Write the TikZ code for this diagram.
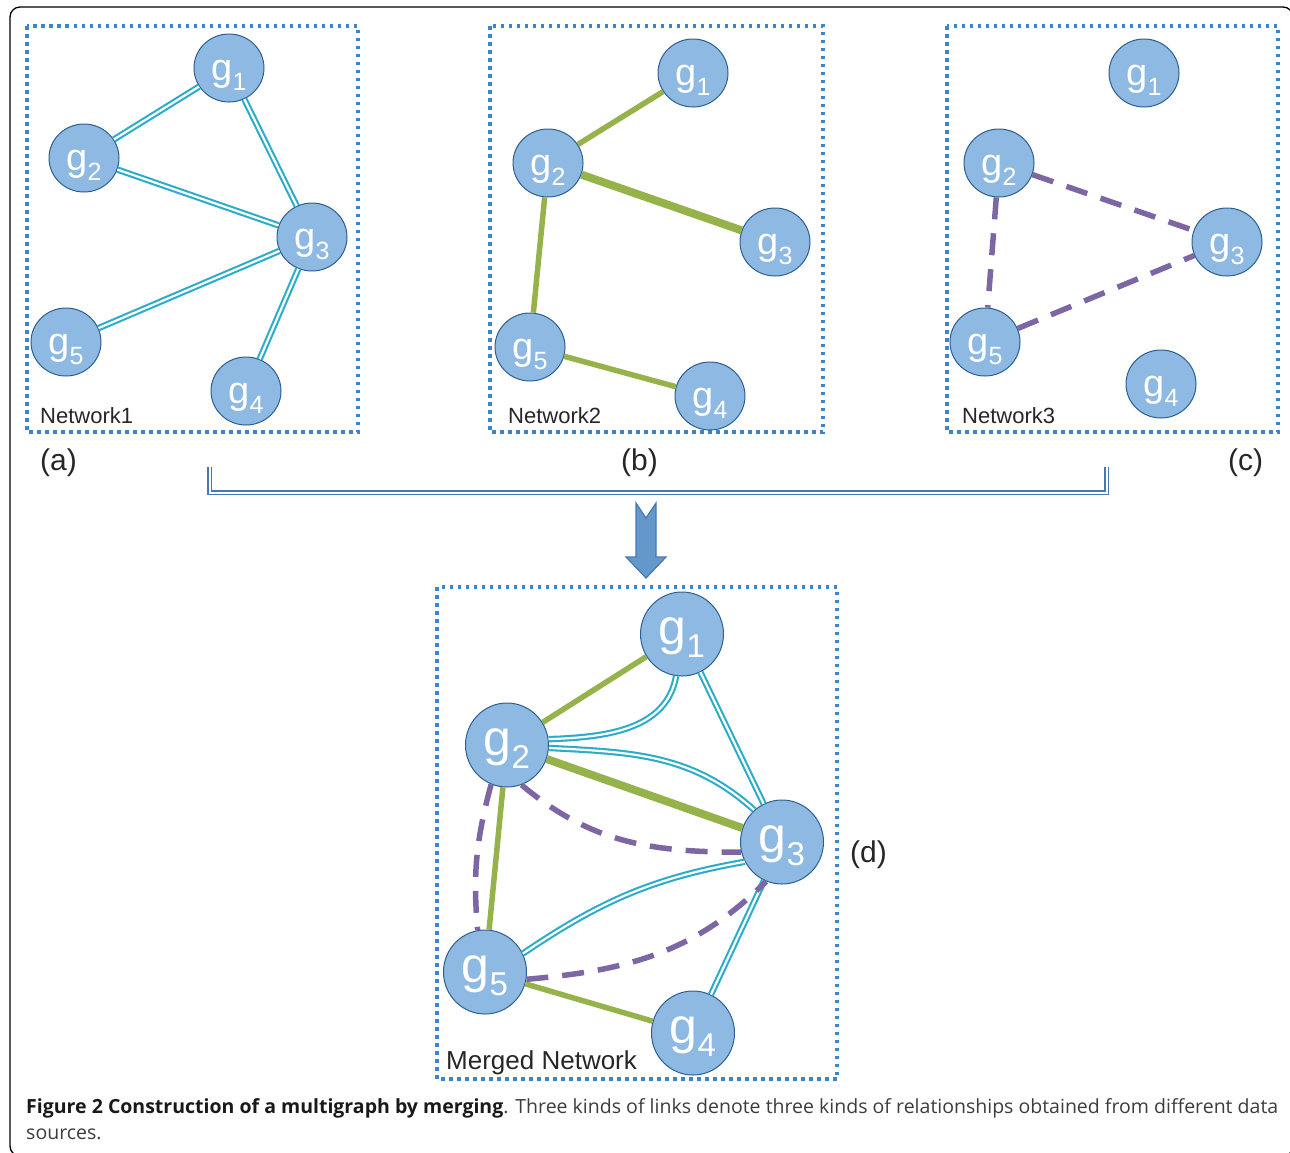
\documentclass[tikz,border=0pt]{standalone}
\usepackage{fontspec}
\setmainfont{Liberation Sans}
\newfontfamily\capfont{Open Sans}
\usetikzlibrary{shapes.geometric}
\definecolor{nodefill}{RGB}{141,185,226}
\definecolor{nodeedge}{RGB}{45,95,145}
\definecolor{cyanl}{RGB}{43,172,199}
\definecolor{greenl}{RGB}{150,178,74}
\definecolor{purplel}{RGB}{125,102,164}
\definecolor{boxblue}{RGB}{62,132,198}
\definecolor{arrfill}{RGB}{101,152,202}
\definecolor{arredge}{RGB}{70,120,180}
\definecolor{capgray}{RGB}{60,60,60}
\newcommand{\pg}[1]{g\raisebox{-10pt}{\fontsize{25}{25}\selectfont #1}}
\newcommand{\mg}[1]{g\raisebox{-13pt}{\fontsize{33}{33}\selectfont #1}}
\tikzset{
  gnode/.style={ellipse, draw=nodeedge, line width=1pt, fill=nodefill, minimum width=70, minimum height=68, inner sep=0pt, text=white, font=\fontsize{38}{38}\selectfont, text height=28pt, text depth=4pt},
  mnode/.style={gnode, minimum width=83, minimum height=84, font=\fontsize{50}{50}\selectfont, text height=27pt, text depth=6pt},
  cyanedge/.style={draw=cyanl, line width=2.1pt, double=white, double distance=2.2pt},
  greenedge/.style={draw=greenl, line width=5.5pt},
  greenthick/.style={draw=greenl, line width=8pt},
  purpleedge/.style={draw=purplel, line width=5.5pt, dash pattern=on 22pt off 14pt},
  dotbox/.style={draw=boxblue, line width=3.5pt, dash pattern=on 3.5pt off 4.5pt},
  netlabel/.style={anchor=base west, inner sep=0pt, font=\fontsize{22}{22}\selectfont, text=black!85},
  panlabel/.style={anchor=base west, inner sep=0pt, font=\fontsize{30}{30}\selectfont, text=black!85},
  capstyle/.style={anchor=base west, inner sep=0pt, font=\capfont\fontsize{19.5}{19.5}\selectfont, text=capgray},
}
\begin{document}
\begin{tikzpicture}[x=1pt,y=-1pt]
\useasboundingbox (0,0) rectangle (1290,1152);
\draw[black, line width=1.3pt, rounded corners=10pt] (10,7) rectangle (1293,1156);

% boxes
\draw[dotbox] (27,26) rectangle (358,432);
\draw[dotbox] (490,26) rectangle (823,432);
\draw[dotbox] (947,26) rectangle (1278,432);
\draw[dotbox] (437,587) rectangle (837,1079);

% panel (a)
\node[gnode] (a1) at (229,68) {\pg{1}};
\node[gnode] (a2) at (84,158) {\pg{2}};
\node[gnode] (a3) at (312,237) {\pg{3}};
\node[gnode] (a5) at (66,342) {\pg{5}};
\node[gnode] (a4) at (246,391) {\pg{4}};
\draw[cyanedge] (a1) -- (a2);
\draw[cyanedge] (a1) -- (a3);
\draw[cyanedge] (a2) -- (a3);
\draw[cyanedge] (a3) -- (a5);
\draw[cyanedge] (a3) -- (a4);
\node[netlabel] (n1) at (40,423) {Network1};
\node[panlabel] (la) at (40,470) {(a)};

% panel (b)
\node[gnode] (b1) at (693,73) {\pg{1}};
\node[gnode] (b2) at (548,163) {\pg{2}};
\node[gnode] (b3) at (775,242) {\pg{3}};
\node[gnode] (b5) at (530,347) {\pg{5}};
\node[gnode] (b4) at (710,396) {\pg{4}};
\draw[greenedge] (b1) -- (b2);
\draw[greenthick] (b2) -- (b3);
\draw[greenedge] (b2) -- (b5);
\draw[greenedge] (b5) -- (b4);
\node[netlabel] (n2) at (508,423) {Network2};
\node[panlabel] (lb) at (621,470) {(b)};

% panel (c)
\node[gnode] (c1) at (1144,73) {\pg{1}};
\node[gnode] (c2) at (999,163) {\pg{2}};
\node[gnode] (c3) at (1227,242) {\pg{3}};
\node[gnode] (c5) at (985,342) {\pg{5}};
\node[gnode] (c4) at (1161,384) {\pg{4}};
\draw[purpleedge] (c2) -- (c3);
\draw[purpleedge] (c2) -- (c5);
\draw[purpleedge] (c5) -- (c3);
\node[netlabel] (n3) at (962,423) {Network3};
\node[panlabel] (lc) at (1228,470) {(c)};

% bracket
\coordinate (k1) at (209.5,467);
\coordinate (k2) at (209.5,492.5);
\coordinate (k3) at (1106.5,492.5);
\coordinate (k4) at (1106.5,467);
\draw[draw=arredge, line width=1.3pt, double=white, double distance=2pt] (k1) -- (k2) -- (k3) -- (k4);

% block arrow
\draw[fill=arrfill, draw=arredge, line width=1.2pt, line join=miter]
  (636,503) -- (646,518) -- (656,503) -- (656,557) -- (666,557) -- (646,578) -- (626,557) -- (636,557) -- cycle;

% merged
\node[mnode] (m1) at (682,634) {\mg{1}};
\node[mnode] (m2) at (507,745) {\mg{2}};
\node[mnode] (m3) at (782,842) {\mg{3}};
\node[mnode] (m5) at (485,972) {\mg{5}};
\node[mnode] (m4) at (693,1033) {\mg{4}};
\draw[greenedge] (m1) -- (m2);
\draw[greenthick] (m2) -- (m3);
\draw[greenedge] (m2) -- (m5);
\draw[greenedge] (m5) -- (m4);
\draw[cyanedge] (m2.8) to[out=2, in=-100] (m1.-98);
\draw[cyanedge] (m1) -- (m3);
\draw[cyanedge] (m2.-4) to[out=-3, in=138] (m3.131);
\draw[cyanedge] (m5.26) to[out=34, in=190] (m3.208);
\draw[cyanedge] (m3) -- (m4);
\draw[purpleedge] (m2.-70) to[out=-40, in=180] (m3.194);
\draw[purpleedge] (m2.-112) to[out=-105, in=95] (m5.100);
\draw[purpleedge] (m5.-10) to[out=5, in=-135] (m3.-112);
\node[anchor=base west, inner sep=0pt, font=\fontsize{26}{26}\selectfont, text=black!85] (mn) at (446,1069) {Merged Network};
\node[panlabel] (ld) at (850,862) {(d)};

% caption
\node[capstyle] (cap1) at (26,1113)
  {\makebox[1252pt][s]{{\bfseries\color{black!90}Figure 2 Construction of a multigraph by merging}. Three kinds of links denote three kinds of relationships obtained from different data}};
\node[capstyle] (cap2) at (26,1139) {sources.};
\end{tikzpicture}
\end{document}
